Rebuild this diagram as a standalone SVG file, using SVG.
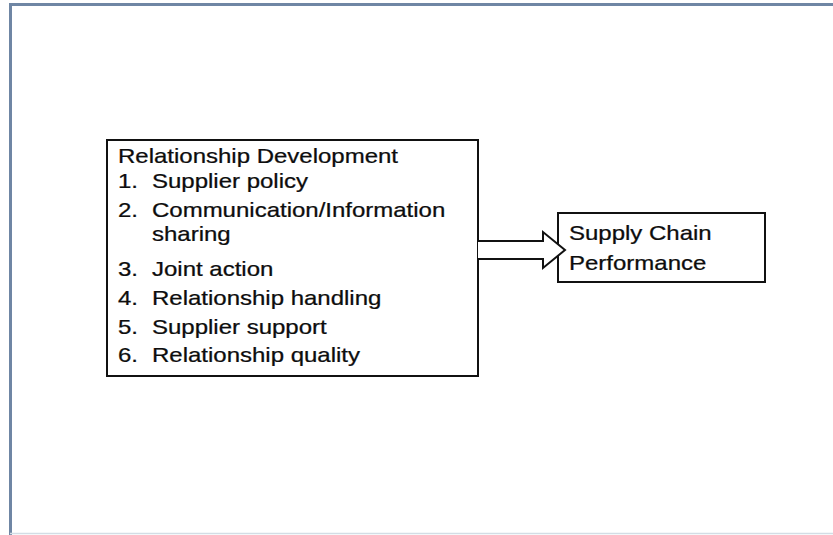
<svg xmlns="http://www.w3.org/2000/svg" width="833" height="535" viewBox="0 0 833 535">
  <style>
    .frame { fill: none; stroke: #6f86a4; stroke-width: 3; }
    .frame-base { fill: none; stroke: #d3dde5; stroke-width: 1.5; }
    .box { fill: #ffffff; stroke: #111111; stroke-width: 2; }
    .arrow { fill: #ffffff; stroke: #111111; stroke-width: 2; stroke-linejoin: miter; }
    .label { font-family: "Liberation Sans", Arial, sans-serif; font-size: 20px; fill: #0d0d0d; stroke: #0d0d0d; stroke-width: 0.25; }
  </style>

  <rect x="0" y="0" width="833" height="535" fill="#ffffff"/>

  <!-- outer page frame -->
  <path class="frame" d="M 10.5 535 V 4.5 H 833"/>
  <line class="frame-base" x1="10" y1="533.5" x2="833" y2="533.5"/>

  <!-- factor list -->
  <g id="relationship-development">
    <rect class="box" x="107" y="140" width="371" height="236"/>
    <text class="label" transform="translate(118 163) scale(1.2 1)">Relationship Development</text>
    <text class="label" transform="translate(118 188) scale(1.2 1)">1.</text>
    <text class="label" transform="translate(152 188) scale(1.2 1)">Supplier policy</text>
    <text class="label" transform="translate(118 217) scale(1.2 1)">2.</text>
    <text class="label" transform="translate(152 217) scale(1.2 1)">Communication/Information</text>
    <text class="label" transform="translate(152 241) scale(1.2 1)">sharing</text>
    <text class="label" transform="translate(118 276) scale(1.2 1)">3.</text>
    <text class="label" transform="translate(152 276) scale(1.2 1)">Joint action</text>
    <text class="label" transform="translate(118 305) scale(1.2 1)">4.</text>
    <text class="label" transform="translate(152 305) scale(1.2 1)">Relationship handling</text>
    <text class="label" transform="translate(118 334) scale(1.2 1)">5.</text>
    <text class="label" transform="translate(152 334) scale(1.2 1)">Supplier support</text>
    <text class="label" transform="translate(118 362) scale(1.2 1)">6.</text>
    <text class="label" transform="translate(152 362) scale(1.2 1)">Relationship quality</text>
  </g>

  <!-- outcome -->
  <g id="supply-chain-performance">
    <rect class="box" x="558" y="213" width="207" height="69"/>
    <text class="label" transform="translate(569 240) scale(1.2 1)">Supply Chain</text>
    <text class="label" transform="translate(569 270) scale(1.2 1)">Performance</text>
  </g>

  <!-- block arrow between the two boxes -->
  <g id="connectors">
    <path class="arrow" d="M 478 241 H 543 V 232 L 565 250 L 543 268 V 259 H 478"/>
  </g>
</svg>
